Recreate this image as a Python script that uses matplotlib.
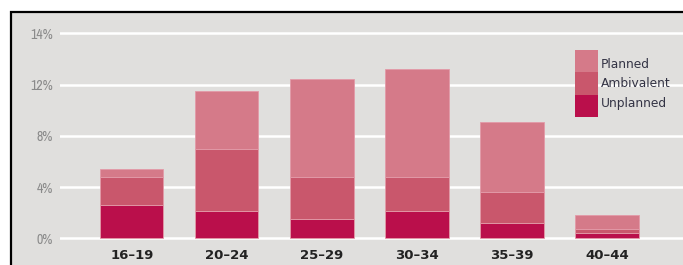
"""Stacked bar chart of pregnancy planning status by age group."""

import matplotlib

matplotlib.use("Agg")

import matplotlib.pyplot as plt
import numpy as np
from matplotlib import font_manager
from matplotlib.patches import Rectangle

# Data (percent of women, by age group)
age_groups = ["16\u201319", "20\u201324", "25\u201329", "30\u201334", "35\u201339", "40\u201344"]
unplanned = [2.6, 2.1, 1.5, 2.1, 1.2, 0.4]
ambivalent = [2.2, 4.85, 3.25, 2.7, 2.45, 0.3]
planned = [0.6, 4.55, 7.65, 8.4, 5.45, 1.1]

tick_values = [0, 4, 8, 12, 16]
tick_labels = ["0%", "4%", "8%", "12%", "14%"]

series_names = ["Planned", "Ambivalent", "Unplanned"]
colors = {"Planned": "#d57a89", "Ambivalent": "#c9576c", "Unplanned": "#ba0f4b"}

W, H = 683, 265
BG = "#e0dfdd"

# pick a narrow font for the y tick labels if one is installed
narrow = {"family": "DejaVu Sans"}
for f in font_manager.fontManager.ttflist:
    if "Narrow" in f.name or "Condensed" in f.name:
        narrow = {"family": f.name}
        break

fig = plt.figure(figsize=(W / 100, H / 100), dpi=100)
fig.patch.set_facecolor("white")

# Gray panel with black border (runs off right and bottom edges)
fig.add_artist(
    Rectangle(
        (11 / W, -0.1), 1.2, (H - 12) / H + 0.1,
        transform=fig.transFigure, facecolor=BG, edgecolor="black",
        linewidth=1.6, zorder=0,
    )
)

ax = fig.add_axes([60 / W, (265 - 244.7) / H, 1 - 60 / W, (244.7 - 26.9) / H])
ax.set_facecolor("none")
for s in ax.spines.values():
    s.set_visible(False)

x = np.arange(len(age_groups))
width = 0.667
edge = "#e39aa8"
ax.bar(x, unplanned, width, color=colors["Unplanned"], edgecolor=edge,
       linewidth=0.6, zorder=3)
ax.bar(x, ambivalent, width, bottom=unplanned, color=colors["Ambivalent"],
       edgecolor=edge, linewidth=0.6, zorder=3)
bottom2 = np.array(unplanned) + np.array(ambivalent)
ax.bar(x, planned, width, bottom=bottom2, color=colors["Planned"],
       edgecolor=edge, linewidth=0.6, zorder=3)

ax.set_xlim(-0.755, 5.80)
ax.set_ylim(-0.5, 16.5)

ax.set_yticks(tick_values)
ax.set_yticklabels(tick_labels, fontsize=10, color="#8a8a8a", **narrow)
ax.yaxis.grid(True, color="white", linewidth=1.8, zorder=1)
ax.tick_params(axis="y", length=0, pad=5)

ax.set_xticks(x)
ax.set_xticklabels(age_groups, fontsize=9.5, fontweight="bold",
                   color="#222222", family="DejaVu Sans")
ax.tick_params(axis="x", length=0, pad=3)

# Legend: stacked colour block with labels
box_x, box_w = 575, 23
box_top, seg_h = 50, 22.4
label_y = [65, 84, 103]
for i, name in enumerate(series_names):
    y0 = box_top + i * seg_h
    fig.add_artist(
        Rectangle(
            (box_x / W, 1 - (y0 + seg_h) / H), box_w / W, seg_h / H,
            transform=fig.transFigure, facecolor=colors[name],
            edgecolor="none", zorder=3,
        )
    )
    fig.text(601 / W, 1 - label_y[i] / H, name, fontsize=8.8,
             color="#333344", va="center", ha="left", family="DejaVu Sans")

fig.savefig("out.png", dpi=100)
